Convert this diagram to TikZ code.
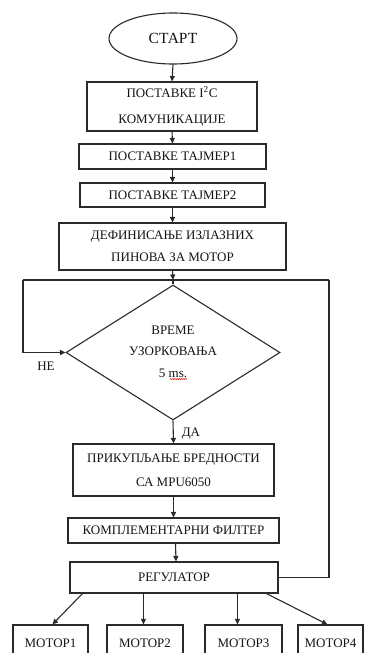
\documentclass[tikz,border=0pt]{standalone}
\usepackage{fontspec}
\setmainfont{Liberation Serif}
\usetikzlibrary{arrows.meta,shapes.geometric,calc,decorations.pathmorphing}
\definecolor{ln}{HTML}{2A2A2A}
\definecolor{tx}{HTML}{141414}
\tikzset{
  box/.style={draw=ln, line width=1.1pt, rectangle, inner sep=0pt, text=tx, align=center,
              font=\fontsize{13}{24}\selectfont},
  arr/.style={draw=ln, line width=1.1pt, -{Triangle[length=5.5pt,width=5pt]}},
  ln/.style={draw=ln, line width=1.1pt},
  lbl/.style={text=tx, inner sep=0pt, font=\fontsize{13}{15}\selectfont}
}
\begin{document}
\begin{tikzpicture}[x=1pt,y=-1pt]
\clip (0,0) rectangle (366,653);
\fill[white] (0,0) rectangle (366,653);
% nodes
\node[draw=ln, line width=1.1pt, ellipse, minimum width=128pt, minimum height=51pt, inner sep=0pt,
      text=tx, font=\fontsize{15.5}{18}\selectfont] (start) at (173,38.5) {СТАРТ};
\node[box, minimum width=170pt, minimum height=49pt, font=\fontsize{13}{26}\selectfont] (b1) at (172,106.5)
  {ПОСТАВКЕ I\textsuperscript{2}C\\КОМУНИКАЦИЈЕ};
\node[box, minimum width=187pt, minimum height=25pt] (b2) at (172.5,156.5) {ПОСТАВКЕ ТАЈМЕР1};
\node[box, minimum width=185pt, minimum height=24pt] (b3) at (172.5,195) {ПОСТАВКЕ ТАЈМЕР2};
\node[box, minimum width=227pt, minimum height=47pt, font=\fontsize{13}{22}\selectfont] (b4) at (172.5,246.5)
  {ДЕФИНИСАЊЕ ИЗЛАЗНИХ\\ПИНОВА ЗА МОТОР};
\coordinate (j) at (173,280);
\coordinate (jl) at (23,280);
\coordinate (jr) at (329,280);
\node[draw=ln, line width=1.1pt, diamond, minimum width=214pt, minimum height=135pt, inner sep=0pt] (d) at (173,352.5) {};
\node[lbl, align=center, font=\fontsize{13}{21.5}\selectfont] (dt) at (173,351.5) {ВРЕМЕ\\УЗОРКОВАЊА\\5 ms.};
\node[lbl] (ne) at (46,366) {НЕ};
\node[lbl] (da) at (191,434) {ДА};
\node[box, minimum width=201pt, minimum height=52pt] (b5) at (173.5,470)
  {ПРИКУПЉАЊЕ БРЕДНОСТИ\\СА MPU6050};
\node[box, minimum width=211pt, minimum height=25pt] (b6) at (173.5,530.5) {КОМПЛЕМЕНТАРНИ ФИЛТЕР};
\node[box, minimum width=208pt, minimum height=31pt] (b7) at (174,577.5) {РЕГУЛАТОР};
\node[box, minimum width=75pt, minimum height=36pt] (m1) at (50.5,643) {МОТОР1};
\node[box, minimum width=76pt, minimum height=36pt] (m2) at (145,643) {МОТОР2};
\node[box, minimum width=77pt, minimum height=36pt] (m3) at (243.5,643) {МОТОР3};
\node[box, minimum width=65pt, minimum height=36pt] (m4) at (330.5,643) {МОТОР4};
% spelling underline
\draw[red!85!black, line width=0.5pt, decorate, decoration={snake, amplitude=0.6pt, segment length=2.2pt}]
  ($(dt.south)+(-3,1.5)$) -- ($(dt.south)+(14,1.5)$);
% connectors
\draw[arr] (start.south) -- (b1.north);
\draw[arr] (b1.south) -- (b2.north);
\draw[arr] (b2.south) -- (b3.north);
\draw[arr] (b3.south) -- (b4.north);
\draw[arr] (b4.south) -- (j);
\draw[ln] (jl) -- (jr);
\draw[ln] (j) -- (d.north);
\draw[arr] (jl) |- (d.west);
\draw[ln] (b7.east) -| (jr);
\draw[arr] (d.south) -- (b5.north);
\draw[arr] (b5.south) -- (b6.north);
\draw[arr] ($(b6.south)+(2,0)$) -- ($(b7.north)+(2,0)$);
\draw[arr] ($(b7.south west)+(13,0)$) -- ($(m1.north west)+(40,0)$);
\draw[arr] ($(b7.south west)+(74,0)$) -- ($(m2.north west)+(37,0)$);
\draw[arr] ($(b7.south west)+(168,0)$) -- ($(m3.north west)+(33,0)$);
\draw[arr] ($(b7.south west)+(197,0)$) -- ($(m4.north west)+(30,0)$);
\end{tikzpicture}
\end{document}
